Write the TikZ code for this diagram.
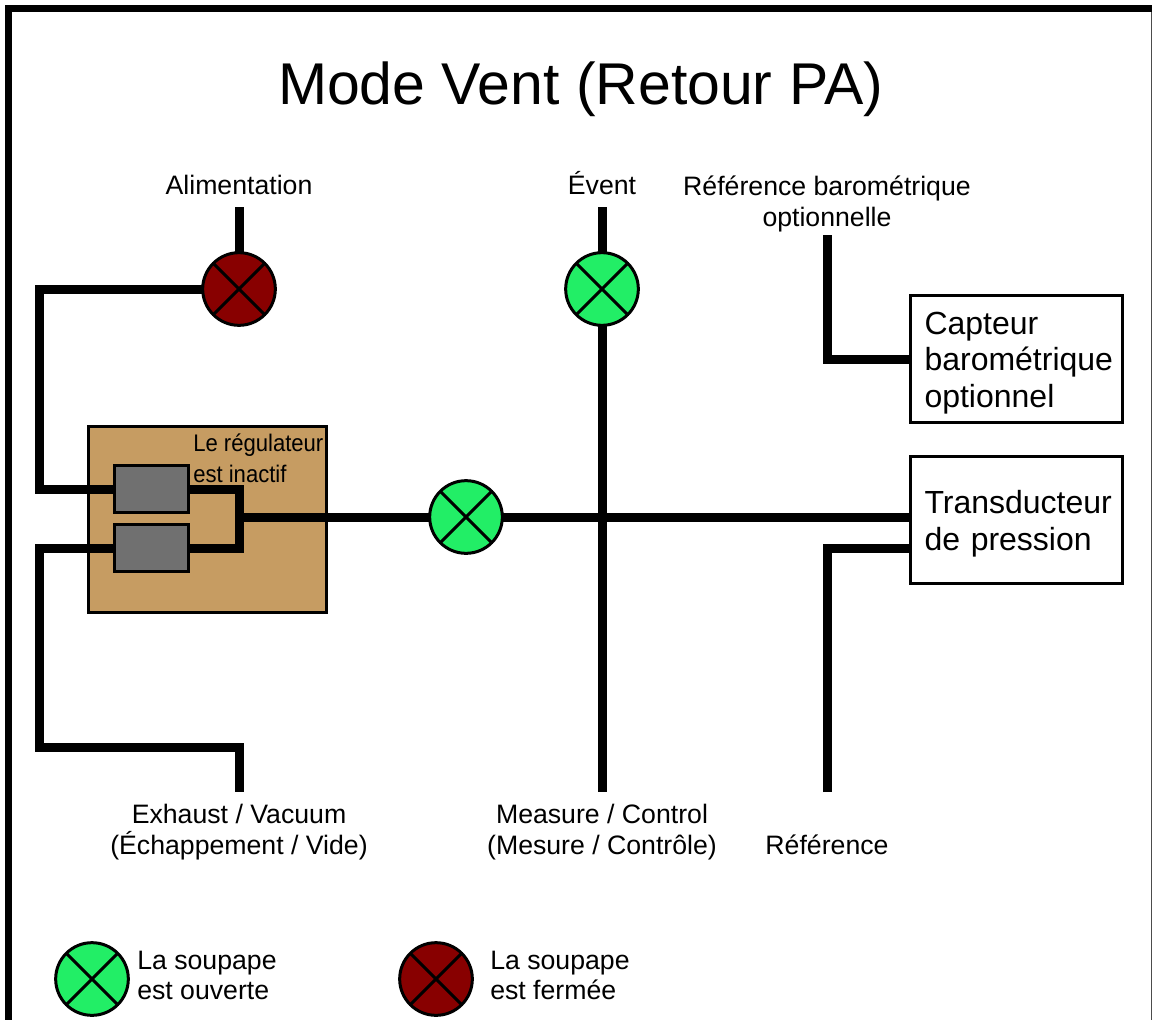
\documentclass[tikz,border=0pt]{standalone}
\usepackage{fontspec}
\setmainfont{Liberation Sans}
\newfontfamily\regfont[FakeStretch=0.92]{Liberation Sans}
\definecolor{openc}{HTML}{22EE66}
\definecolor{shutc}{HTML}{880000}
\definecolor{regc}{HTML}{C69C62}
\definecolor{grayc}{HTML}{707070}
\tikzset{
  pipe/.style={line width=6.75pt,black},
  frameline/.style={line width=5.25pt,black},
  valve/.style={circle,draw=black,line width=2.25pt,minimum size=54.5pt,inner sep=0pt,outer sep=0pt,
    path picture={\draw[line width=2.25pt,black]
      ([shift={(7.9pt,-7.9pt)}]path picture bounding box.north west) -- ([shift={(-7.9pt,7.9pt)}]path picture bounding box.south east);
      \draw[line width=2.25pt,black]
      ([shift={(-7.9pt,-7.9pt)}]path picture bounding box.north east) -- ([shift={(7.9pt,7.9pt)}]path picture bounding box.south west);}},
  openv/.style={valve,fill=openc},
  shutv/.style={valve,fill=shutc},
  sensor/.style={draw=black,line width=2.25pt,fill=white,minimum width=158.6pt,minimum height=94.8pt,outer sep=0pt,
    inner sep=0pt,inner xsep=10pt,align=left,text width=138pt,font=\fontsize{24}{27.5}\selectfont},
  label/.style={inner sep=0pt,align=center,font=\fontsize{20}{23.4}\selectfont},
  leg/.style={inner sep=0pt,align=left,anchor=west,font=\fontsize{20}{22.5}\selectfont},
  regbox/.style={draw=black,line width=2.25pt,fill=regc,minimum width=179pt,minimum height=139pt,inner sep=0pt,outer sep=0pt},
  modbox/.style={draw=black,line width=2.25pt,fill=grayc,minimum width=55pt,minimum height=35pt,inner sep=0pt,outer sep=0pt},
}
\begin{document}
\begin{tikzpicture}[x=0.75pt,y=-0.75pt]
\useasboundingbox (0,0) rectangle (1152,1020);
\fill[white] (0,0) rectangle (1152,1020);
% frame
\draw[frameline] (8.5,1020) -- (8.5,8.5) -- (1152,8.5);
\draw[line width=0.75pt,black!70] (1151,12) -- (1151,1020);
% title
\node[inner sep=0pt,font=\fontsize{44.2}{50}\selectfont] (title) at (580.5,89) {Mode Vent (Retour PA)};
% boxes
\node[regbox] (reg) at (207.5,519.5) {};
\node[modbox] (m1) at (151.5,489) {};
\node[modbox] (m2) at (151.5,548) {};
\node[sensor] (baro) at (1016.5,359) {\rule{0pt}{22.5pt}Capteur\\barométrique\\optionnel};
\node[sensor] (trans) at (1016.5,520) {\rule{0pt}{22.5pt}Transducteur\\de pression};
% valves
\node[shutv] (vsup) at (239,289) {};
\node[openv] (vvent) at (602,289) {};
\node[openv] (vmain) at (466,517) {};
% labels
\node[label] (lsup) at (239,185) {Alimentation};
\node[label] (lvent) at (602,183) {Évent};
\node[label] (lbaro) at (827,204) {Référence barométrique\\optionnelle};
\node[label] (lexh) at (239,832) {Exhaust / Vacuum\\(Échappement / Vide)};
\node[label] (lmes) at (602,832) {Measure / Control\\(Mesure / Contrôle)};
\node[label] (lref) at (827,845) {Référence};
\node[inner sep=0pt,align=left,anchor=west,font=\regfont\fontsize{18}{23.4}\selectfont] (lreg) at (193,458) {Le régulateur\\est inactif};
% free ends
\coordinate (csup) at (239,207);
\coordinate (cvent) at (602,207);
\coordinate (cbaro) at (827,235);
\coordinate (cmes) at (602,792);
\coordinate (cexh) at (239,792);
\coordinate (cref) at (827,792);
\coordinate (jn) at (239,517);
% connectors
\draw[pipe] (csup) -- (vsup.north);
\draw[pipe] (cvent) -- (vvent.north);
\draw[pipe] (vvent.south) -- (cmes);
\draw[pipe] (vsup.west) -- (39,289) -- (39,489) -- (m1.west);
\draw[pipe] (m2.west) -- (39,548) -- (39,747) -- (239,747) -- (cexh);
\draw[pipe] (m1.east) -- (239,489) -- (239,548) -- (m2.east);
\draw[pipe] (jn) -- (vmain.west);
\draw[pipe] (vmain.east) -- (trans.west |- vmain.east);
\draw[pipe] (cbaro) |- (baro.west);
\draw[pipe] (cref) -- (827,548) -- (trans.west |- 0,548);
% legend
\node[openv] (vl1) at (92,979) {};
\node[leg] (tl1) at (137,975) {La soupape\\est ouverte};
\node[shutv] (vl2) at (436,979) {};
\node[leg] (tl2) at (490,975) {La soupape\\est fermée};
\end{tikzpicture}
\end{document}
